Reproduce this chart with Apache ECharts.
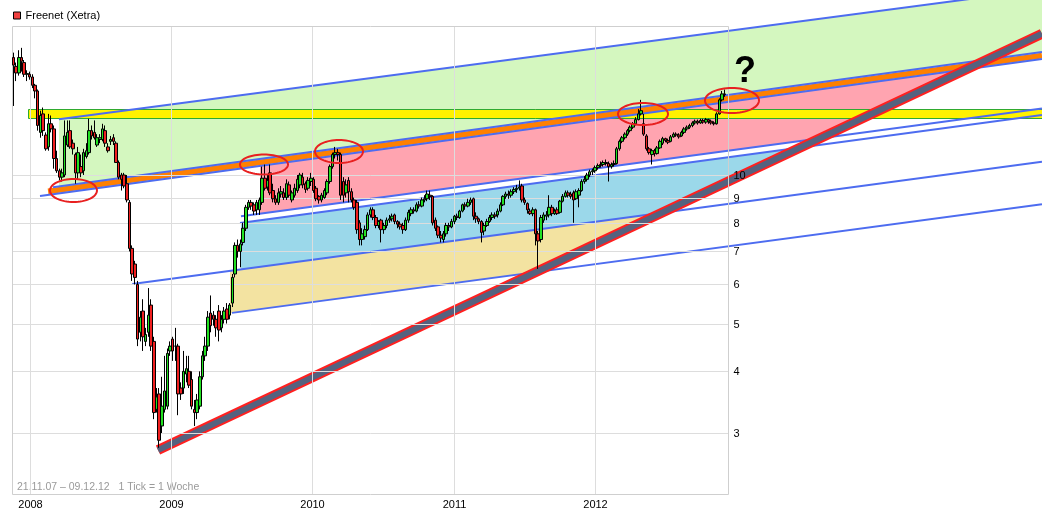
<!DOCTYPE html>
<html><head><meta charset="utf-8">
<script src="https://cdn.jsdelivr.net/npm/echarts@6/dist/echarts.min.js"></script>
<style>html,body{margin:0;padding:0;background:#fff}#c{width:1042px;height:524px}</style>
</head><body><div id="c"></div>
<script>
// ---------- DATA ----------
const firstWeek = '2007-11-19';           // Monday of first weekly candle
// weekly candles [open, close, low, high]
const wk2007 = [
 [17.3,16.7,13.8,17.7],[16.6,16.1,15.5,16.9],[16.1,17.3,15.9,17.9],[17.3,17.0,16.2,18.1],
 [16.9,16.0,15.8,17.1],[16.0,16.05,15.5,16.3],[16.0,15.8,15.6,16.2]
];
const wk2008 = [
 [15.8,15.2,15.0,16.0],[15.2,14.8,14.3,15.3],[14.8,12.6,12.3,14.9],[12.2,13.2,11.9,13.5],
 [13.3,12.3,12.0,13.7],[12.05,11.3,11.2,12.2],[11.4,12.7,11.2,13.3],[12.7,12.4,12.2,13.2],
 [12.4,10.8,10.3,12.6],[10.8,10.2,10.1,11.2],[10.2,9.9,9.75,10.3],[9.9,10.1,9.7,10.3],
 [10.0,12.0,9.9,12.9],[11.5,12.2,11.4,12.9],[12.3,11.4,11.3,12.9],[11.6,11.3,11.0,11.8],
 [11.0,10.1,9.6,11.1],[10.1,11.1,9.8,11.4],[10.4,10.1,9.9,11.0],[10.2,11.1,10.0,11.3],
 [10.9,11.2,10.8,11.6],[11.1,12.3,11.0,13.0],[12.3,12.0,11.8,12.6],[12.2,11.9,11.8,12.9],
 [11.5,11.9,11.4,12.1],[11.8,11.9,11.6,12.1],[11.8,12.4,11.7,12.7],[12.3,11.6,11.4,12.6],
 [11.4,11.2,11.1,11.6],[11.7,11.8,11.5,12.0],[11.9,11.7,11.5,12.1],[11.6,10.6,10.6,11.7],
 [10.6,9.9,9.8,10.7],[10.0,9.8,9.3,10.1],[10.0,9.5,9.4,10.1],[9.6,8.9,8.8,10.0],
 [8.8,7.1,7.0,8.9],[7.1,6.3,6.1,7.2],[6.6,6.2,6.0,6.7],[6.0,4.65,4.5,6.1],
 [4.8,5.15,4.6,5.3],[5.3,4.7,4.4,5.6],[4.6,4.75,4.5,4.9],[4.8,5.2,4.7,5.9],
 [5.45,4.5,4.4,5.6],[4.6,3.3,3.2,4.7],[3.35,3.55,3.3,3.7],[3.6,2.9,2.8,3.7],
 [3.1,3.4,3.0,3.9],[3.35,3.65,3.3,4.3],[3.4,4.35,3.35,4.45],[4.4,4.5,4.3,4.6]
];
const wk2009 = [
 [4.65,4.4,4.2,4.7],[4.5,4.5,4.2,4.9],[4.5,3.6,3.26,4.55],[3.7,3.6,3.5,3.8],
 [3.7,4.0,3.6,4.4],[3.95,4.05,3.8,4.3],[4.0,3.75,3.7,4.3],[3.85,3.4,3.35,4.0],
 [3.35,3.3,3.1,3.5],[3.3,3.5,3.2,3.6],[3.4,3.9,3.35,4.0],[3.9,4.3,3.85,4.4],
 [4.3,4.5,4.2,4.7],[4.5,5.15,4.4,5.3],[5.25,4.95,4.8,5.7],[5.2,5.1,4.95,5.3],
 [5.1,4.9,4.7,5.2],[5.3,4.85,4.6,5.45],[4.9,5.1,4.8,5.2],[5.1,5.3,5.0,5.4],
 [5.35,5.1,5.0,5.5],[5.2,5.45,5.1,5.5],[5.5,6.2,5.4,6.3],[6.3,7.2,6.2,7.3],
 [7.2,7.0,6.8,7.4],[7.0,7.25,6.5,7.4],[7.3,7.8,7.2,8.0],[7.8,8.6,7.7,8.7],
 [8.6,8.8,8.5,8.9],[8.8,8.65,8.5,8.9],[8.7,8.45,8.3,8.8],[8.5,8.8,8.3,8.9],
 [8.5,8.9,8.3,9.0],[8.8,9.85,8.7,10.4],[9.85,9.4,9.3,10.5],[9.45,9.75,9.3,10.0],
 [10.1,9.2,9.1,10.5],[9.3,8.95,8.8,9.6],[8.95,8.8,8.7,9.1],[8.8,9.2,8.7,9.4],
 [9.15,9.25,9.0,9.5],[9.2,9.0,8.9,9.4],[9.0,9.6,8.9,9.8],[9.55,9.1,9.0,9.7],
 [8.9,9.2,8.8,9.3],[9.1,9.4,9.0,9.6],[9.3,9.8,9.2,10.0],[9.55,10.0,9.4,10.1],
 [9.9,9.55,9.4,10.1],[9.6,9.35,9.2,9.7],[9.4,9.75,9.3,9.9],[9.7,9.85,9.5,10.1]
];
const wk2010 = [
 [9.8,9.3,9.2,9.9],[9.4,8.95,8.85,9.5],[9.05,8.9,8.75,9.1],[8.9,9.1,8.8,9.2],
 [9.0,9.3,8.95,9.4],[9.2,9.7,9.1,9.8],[9.7,10.4,9.6,10.5],[10.4,11.0,10.3,11.1],
 [11.0,11.1,10.8,11.4],[11.1,11.0,10.7,11.3],[11.0,9.1,8.9,11.1],[9.7,9.1,8.8,9.9],
 [9.2,9.55,9.0,9.8],[9.75,9.25,8.8,9.9],[9.25,8.9,8.8,9.4],[8.9,8.6,8.5,9.0],
 [8.8,7.75,7.6,8.9],[8.0,7.4,7.2,8.1],[7.4,7.6,7.2,7.8],[7.5,7.75,7.4,7.9],
 [7.75,8.3,7.7,8.4],[8.3,8.5,8.2,8.6],[8.5,8.2,8.1,8.6],[8.2,7.9,7.8,8.3],
 [7.9,8.05,7.8,8.1],[8.1,7.75,7.3,8.15],[7.75,7.9,7.6,8.0],[7.9,8.1,7.8,8.2],
 [8.1,8.15,8.0,8.3],[8.15,8.25,8.05,8.35],[8.3,8.05,7.95,8.35],[8.05,7.95,7.8,8.1],
 [7.95,7.85,7.75,8.05],[7.9,7.75,7.6,8.0],[7.75,8.1,7.7,8.2],[8.1,8.4,8.0,8.5],
 [8.35,8.5,8.25,8.6],[8.5,8.45,8.35,8.6],[8.45,8.7,8.4,8.8],[8.7,8.65,8.55,8.85],
 [8.65,8.9,8.6,9.0],[8.9,8.95,8.8,9.1],[8.95,9.15,8.85,9.3],[9.1,9.05,8.9,9.3],
 [9.05,8.0,7.9,9.1],[8.1,7.8,7.7,8.2],[7.85,7.55,7.45,7.9],[7.55,7.45,7.3,7.7],
 [7.4,7.6,7.3,7.7],[7.6,7.9,7.5,8.0],[7.9,7.85,7.7,8.0],[7.85,8.05,7.8,8.15]
];
const wk2011 = [
 [8.05,8.25,7.95,8.3],[8.25,8.2,8.1,8.35],[8.2,8.45,8.15,8.5],[8.45,8.7,8.4,8.75],
 [8.7,8.65,8.5,8.8],[8.65,8.8,8.6,8.95],[8.8,8.9,8.7,9.0],[8.95,8.25,8.1,9.0],
 [8.25,8.15,8.0,8.4],[8.15,8.05,7.95,8.2],[8.05,7.65,7.3,8.1],[7.7,7.9,7.55,8.0],
 [7.9,8.05,7.85,8.15],[8.05,8.2,8.0,8.3],[8.2,8.3,8.1,8.4],[8.3,8.25,8.15,8.4],
 [8.3,8.45,8.2,8.55],[8.45,8.7,8.4,8.8],[8.7,9.05,8.65,9.1],[9.05,9.15,8.95,9.25],
 [9.15,9.1,8.95,9.3],[9.1,9.25,9.0,9.35],[9.25,9.35,9.15,9.45],[9.35,9.4,9.2,9.55],
 [9.4,9.45,9.3,9.75],[9.5,8.9,8.8,9.6],[8.9,8.8,8.7,9.0],[8.75,8.5,8.35,8.8],
 [8.45,8.35,8.3,8.55],[8.35,8.5,8.25,8.6],[8.5,7.6,7.2,8.55],[7.6,7.35,6.45,7.7],
 [7.4,8.2,7.3,8.3],[8.1,8.3,8.0,8.4],[8.25,8.3,8.1,8.45],[8.3,8.6,8.2,9.1],
 [8.6,8.35,8.25,8.7],[8.35,8.45,8.3,8.55],[8.5,8.35,8.3,8.6],[8.4,8.85,8.35,8.9],
 [8.85,9.05,8.8,9.15],[9.05,9.2,9.0,9.3],[9.2,9.1,9.0,9.3],[9.15,9.05,8.95,9.25],
 [9.2,8.9,8.0,9.3],[8.95,9.25,8.9,9.35],[9.1,9.3,8.6,9.4],[9.3,9.7,9.25,9.8],
 [9.7,9.8,9.6,9.95],[9.8,10.0,9.7,10.1],[10.0,10.15,9.9,10.25],[10.15,10.2,10.0,10.3]
];
const wk2012 = [
 [10.2,10.35,10.1,10.45],[10.35,10.45,10.25,10.55],[10.45,10.5,10.35,10.65],[10.5,10.6,10.4,10.7],
 [10.6,10.55,10.45,10.75],[10.55,10.4,9.7,10.65],[10.4,10.5,10.3,10.6],[10.5,10.55,10.4,10.7],
 [10.55,11.3,10.5,11.4],[11.3,11.7,11.2,11.8],[11.7,11.9,11.6,12.0],[11.9,12.1,11.8,12.2],
 [12.1,12.3,12.0,12.4],[12.3,12.5,12.2,12.6],[12.5,12.7,12.4,12.8],[12.7,12.95,12.6,13.1],
 [12.95,13.3,12.9,13.6],[13.3,13.5,13.2,14.2],[12.7,12.1,12.0,13.3],[12.0,11.3,11.2,12.1],
 [11.3,11.1,11.0,11.4],[11.0,11.2,10.5,11.3],[11.2,11.05,10.9,11.3],[11.05,11.35,11.0,11.45],
 [11.35,11.7,11.3,11.8],[11.6,11.85,11.5,11.95],[11.85,11.75,11.65,11.9],[11.75,11.65,11.55,11.85],
 [11.7,11.95,11.65,12.05],[11.95,12.1,11.9,12.2],[12.1,12.05,11.95,12.2],[12.05,11.95,11.85,12.15],
 [12.0,12.2,11.95,12.3],[12.2,12.4,12.1,12.5],[12.4,12.5,12.3,12.6],[12.5,12.6,12.4,12.7],
 [12.6,12.75,12.5,12.85],[12.75,12.85,12.65,12.95],[12.85,12.75,12.65,12.95],[12.75,12.9,12.7,13.0],
 [12.9,12.8,12.7,13.0],[12.8,12.95,12.7,13.05],[12.95,12.85,12.7,13.0],[12.85,12.75,12.65,12.95],
 [12.75,12.7,12.6,12.85],[12.7,13.3,12.65,13.4],[13.3,14.2,13.25,14.3],[14.2,14.6,14.1,14.8],
 [14.6,14.55,14.4,14.9]
];
const yearTicks = [2008, 2009, 2010, 2011, 2012];
const priceTicks = [3, 4, 5, 6, 7, 8, 9, 10];
const priceTickLabels = ['3', '4', '5', '6', '7', '8', '9', '10'];
// trend lines drawn on the chart: [[decimal year, price], [decimal year, price]]
const lineTop      = [[2008.205, 12.97], [2015.168, 23.77]];
const orangeUpper  = [[2008.163, 9.447], [2015.168, 17.744]];
const orangeLower  = [[2008.071, 9.067], [2015.168, 17.174]];
const orangeMid    = [[2008.128, 9.263], [2015.168, 17.457]];
const channelTop   = [[2009.4875, 7.997], [2015.168, 13.231]];
const pinkFloor    = [[2009.4945, 8.251], [2015.168, 13.645]];
const cyanFloor    = [[2008.7246, 6.013], [2015.168, 10.640]];
const tanFloor     = [[2009.4308, 5.255], [2015.168, 8.722]];
const supportLine  = [[2008.9067, 2.770], [2015.168, 19.327]];
// shaded zones start dates
const zoneStarts = [2008.205, 2009.629, 2009.4945, 2009.4166];
// horizontal resistance zone [start year, low price, high price]
const resistZone = [2007.986, 13.03, 13.59];
// marked turning points (ellipses) [decimal year, price]
const marks = [[2008.308, 9.302], [2009.6575, 10.502], [2010.1887, 11.159], [2012.342, 13.293], [2012.9724, 14.157]];
const questionMark = [2013.0645, 16.13];
// axis domain
const X_MIN = 2007.7875, X_MAX = 2015.1683, P_MIN = 1.962, P_MAX = 22.628;
const FRAME_X0 = 2007.8725, FRAME_X1 = 2012.944, FRAME_P0 = 2.257, FRAME_P1 = 20.04;

// ---------- BUILD ----------
function decYear(t) {
  const d = new Date(t); const y = d.getUTCFullYear();
  const a = Date.UTC(y, 0, 1), b = Date.UTC(y + 1, 0, 1);
  return y + (t - a) / (b - a);
}
const allWeeks = [].concat(wk2007, wk2008, wk2009, wk2010, wk2011, wk2012);
const t0 = Date.parse(firstWeek + 'T00:00:00Z');
const candles = allWeeks.map((w, i) => [decYear(t0 + i * 7 * 86400000), w[0], w[1], w[2], w[3]]);

function lnLine(l) {
  const b = (Math.log(l[1][1]) - Math.log(l[0][1])) / (l[1][0] - l[0][0]);
  return { a: Math.log(l[0][1]) - b * l[0][0], b };
}
function at(l, x) { const q = lnLine(l); return Math.exp(q.a + q.b * x); }
function cross(l1, l2) { const p = lnLine(l1), q = lnLine(l2); return (q.a - p.a) / (p.b - q.b); }

const zones = [
  { upper: lineTop, lower: orangeUpper, right: null, color: '#d4f7bf' },
  { upper: orangeLower, lower: pinkFloor, right: supportLine, color: '#ffa4b0' },
  { upper: channelTop, lower: cyanFloor, right: supportLine, color: '#9bd8ea' },
  { upper: cyanFloor, lower: tanFloor, right: supportLine, color: '#f3e3a1' }
];

const BLUE = '#4d6cf0';
function trend(data, color, width, z) {
  return { type: 'line', data, symbol: 'none', silent: true, animation: false, z,
    lineStyle: { color, width, cap: 'butt' }, emphasis: { disabled: true } };
}

const chart = echarts.init(document.getElementById('c'), null, { renderer: 'canvas' });
const option = {
  animation: false,
  backgroundColor: '#fff',
  grid: { left: 0, right: 0, top: 0, bottom: 0, containLabel: false },
  xAxis: { type: 'value', min: X_MIN, max: X_MAX, show: false },
  yAxis: { type: 'log', logBase: 10, min: P_MIN, max: P_MAX, show: false },
  legend: {
    left: 13, top: 10, padding: 0, itemWidth: 7, itemHeight: 7, selectedMode: false,
    textStyle: { fontSize: 11, fontFamily: '"Liberation Sans", Arial, sans-serif', color: '#000' },
    data: [{ name: 'Freenet (Xetra)', icon: 'rect', itemStyle: { color: '#f04040', borderColor: '#000', borderWidth: 1 } }]
  },
  graphic: [{
    type: 'text', left: 17, top: 482,
    style: { text: '21.11.07 – 09.12.12   1 Tick = 1 Woche', fill: '#9a9a9a', font: '10.5px "Liberation Sans", Arial, sans-serif' }
  }],
  series: [
    { // shaded zones
      type: 'custom', z: 1, silent: true, animation: false,
      data: zones.map((zn, i) => [zoneStarts[i], at(zn.lower, zoneStarts[i])]),
      renderItem: function (params, api) {
        const zn = zones[params.dataIndex], x0 = zoneStarts[params.dataIndex];
        const xr1 = zn.right ? cross(zn.upper, zn.right) : X_MAX;
        const xr2 = zn.right ? cross(zn.lower, zn.right) : X_MAX;
        const pts = [[x0, at(zn.upper, x0)], [xr1, at(zn.upper, xr1)], [xr2, at(zn.lower, xr2)], [x0, at(zn.lower, x0)]]
          .map(p => api.coord(p));
        return { type: 'polygon', shape: { points: pts }, style: { fill: zn.color } };
      }
    },
    { // yellow resistance zone
      type: 'custom', z: 2, silent: true, animation: false,
      data: [[resistZone[0], resistZone[2]]],
      renderItem: function (params, api) {
        const a = api.coord([resistZone[0], resistZone[2]]), b = api.coord([X_MAX, resistZone[1]]);
        const x = Math.round(a[0]) + 0.5, y = Math.round(a[1]) + 0.5, y2 = Math.round(b[1]) + 0.5;
        return { type: 'rect', shape: { x, y, width: b[0] - x + 2, height: y2 - y },
          style: { fill: '#fff200', stroke: '#2faa2f', lineWidth: 1 } };
      }
    },
    trend(orangeMid, '#ff8000', 6, 3),
    trend(lineTop, BLUE, 2, 4),
    trend(orangeUpper, BLUE, 2, 4),
    trend(orangeLower, BLUE, 2, 4),
    trend(channelTop, BLUE, 2, 4),
    trend(pinkFloor, BLUE, 2, 4),
    trend(cyanFloor, BLUE, 2, 4),
    trend(tanFloor, BLUE, 2, 4),
    trend(supportLine, '#ff2020', 10, 5),
    trend(supportLine, '#55627f', 6, 5),
    { // grid lines, frame, tick labels
      type: 'custom', z: 6, silent: true, animation: false,
      data: [[FRAME_X0, FRAME_P0]],
      renderItem: function (params, api) {
        const ch = [];
        const tl = api.coord([FRAME_X0, FRAME_P1]), br = api.coord([FRAME_X1, FRAME_P0]);
        const L = Math.round(tl[0]) + 0.5, T = Math.round(tl[1]) + 0.5, R = Math.round(br[0]) + 0.5, B = Math.round(br[1]) + 0.5;
        const font = '11px "Liberation Sans", Arial, sans-serif';
        priceTicks.forEach((v, k) => {
          const y = Math.round(api.coord([FRAME_X0, v])[1]) + 0.5;
          ch.push({ type: 'line', shape: { x1: L, y1: y, x2: R, y2: y }, style: { stroke: '#dddddd', lineWidth: 1 } });
          ch.push({ type: 'text', x: R + 5, y: y, style: { text: priceTickLabels[k], fill: '#000', font, align: 'left', verticalAlign: 'middle' } });
        });
        yearTicks.forEach(yr => {
          const x = Math.round(api.coord([yr, FRAME_P0])[0]) + 0.5;
          ch.push({ type: 'line', shape: { x1: x, y1: T, x2: x, y2: B }, style: { stroke: '#dddddd', lineWidth: 1 } });
          ch.push({ type: 'text', x: x, y: B + 10, style: { text: String(yr), fill: '#000', font, align: 'center', verticalAlign: 'middle' } });
        });
        ch.push({ type: 'rect', shape: { x: L, y: T, width: R - L, height: B - T }, style: { fill: 'none', stroke: '#cfcfcf', lineWidth: 1 } });
        return { type: 'group', children: ch };
      }
    },
    {
      name: 'Freenet (Xetra)', type: 'candlestick', z: 7, animation: false,
      data: candles, encode: { x: 0, y: [1, 2, 3, 4] }, barWidth: 3,
      itemStyle: { color: '#22e022', color0: '#f02020', borderColor: '#000', borderColor0: '#000', borderWidth: 1 }
    },
    { // annotations
      type: 'custom', z: 8, silent: true, animation: false,
      data: marks.concat([questionMark]),
      renderItem: function (params, api) {
        const i = params.dataIndex;
        if (i === marks.length) {
          const c = api.coord(questionMark);
          return { type: 'text', x: c[0], y: c[1], style: { text: '?', fill: '#000', font: 'bold 36px "Liberation Sans", Arial, sans-serif', align: 'center', verticalAlign: 'middle' } };
        }
        const c = api.coord(marks[i]);
        const rx = [23.5, 24, 24, 25, 27][i], ry = [11.5, 10, 11.5, 11, 12.5][i];
        const pts = [];
        for (let k = 0; k < 64; k++) { const t = k / 64 * Math.PI * 2; pts.push([c[0] + rx * Math.cos(t), c[1] + ry * Math.sin(t)]); }
        return { type: 'polygon', shape: { points: pts }, style: { fill: 'none', stroke: '#e82020', lineWidth: 2 } };
      }
    }
  ]
};
chart.setOption(option);
</script>
</body></html>
